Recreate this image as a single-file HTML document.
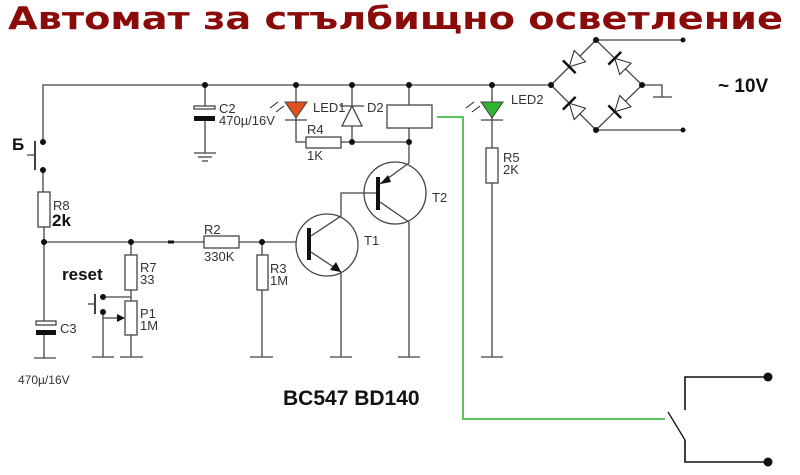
<!DOCTYPE html>
<html><head><meta charset="utf-8"><style>
html,body{margin:0;padding:0;background:#fff;}
svg{display:block;font-family:"Liberation Sans",Arial,sans-serif;}
</style></head><body>
<svg width="800" height="475" viewBox="0 0 800 475" xmlns="http://www.w3.org/2000/svg">
<defs>
<g id="bd"><polygon points="-6,0 9,-8 9,8" fill="#fff" stroke="#222" stroke-width="1"/><line x1="-6" y1="-9" x2="-6" y2="9" stroke="#111" stroke-width="2.5"/></g>
</defs>
<rect width="800" height="475" fill="#fff"/>
<text x="8" y="29" font-size="31" font-weight="bold" fill="#8b0a0a" textLength="775" lengthAdjust="spacingAndGlyphs" font-family="'DejaVu Sans','Liberation Sans',sans-serif">Автомат за стълбищно осветление</text>
<g stroke="#444" stroke-width="1.3" fill="none">
<polyline points="43,142 43,85 551,85"/>
<polyline points="551,85 596,40 642,85 596,130 551,85"/>
<line x1="596" y1="40" x2="683" y2="40"/>
<line x1="596" y1="130" x2="683" y2="130"/>
<polyline points="642,85 662,85 662,97"/>
<line x1="653" y1="97" x2="672" y2="97"/>
<line x1="43" y1="170" x2="43" y2="192"/>
<line x1="35" y1="141" x2="35" y2="170" stroke="#111" stroke-width="1.6"/>
<line x1="27" y1="155" x2="35" y2="155"/>
<rect x="38" y="192" width="12" height="35" fill="#fff"/>
<line x1="44" y1="227" x2="44" y2="321"/>
<line x1="44" y1="334" x2="44" y2="358"/>
<line x1="34" y1="358" x2="56" y2="358"/>
<rect x="36" y="321" width="20" height="4" fill="#fff"/>
<rect x="36" y="330" width="20" height="5" fill="#111" stroke="none"/>
<line x1="44" y1="242" x2="204" y2="242"/>
<line x1="239" y1="242" x2="296" y2="242"/>
<rect x="204" y="236" width="35" height="12" fill="#fff"/>
<line x1="168" y1="242" x2="174" y2="242" stroke="#111" stroke-width="3"/>
<line x1="131" y1="242" x2="131" y2="255"/>
<rect x="125" y="255" width="12" height="35" fill="#fff"/>
<line x1="131" y1="290" x2="131" y2="301"/>
<rect x="125" y="301" width="12" height="34" fill="#fff"/>
<line x1="131" y1="335" x2="131" y2="357"/>
<line x1="120" y1="357" x2="143" y2="357"/>
<line x1="103" y1="297" x2="131" y2="297"/>
<line x1="103" y1="312" x2="103" y2="357"/>
<line x1="92" y1="357" x2="114" y2="357"/>
<line x1="103" y1="318" x2="118" y2="318"/>
<line x1="95" y1="294" x2="95" y2="314" stroke="#111" stroke-width="1.6"/>
<line x1="88" y1="304" x2="95" y2="304"/>
<line x1="262" y1="242" x2="262" y2="255"/>
<rect x="257" y="255" width="11" height="35" fill="#fff"/>
<line x1="262" y1="290" x2="262" y2="357"/>
<line x1="250" y1="357" x2="273" y2="357"/>
<circle cx="327" cy="245" r="31"/>
<line x1="309" y1="228" x2="309" y2="260" stroke="#111" stroke-width="4"/>
<polyline points="311,236 341,216 341,193 377,193"/>
<line x1="311" y1="252" x2="341" y2="272"/>
<line x1="341" y1="272" x2="341" y2="357"/>
<line x1="330" y1="357" x2="352" y2="357"/>
<circle cx="395" cy="193" r="31"/>
<line x1="378" y1="177" x2="378" y2="210" stroke="#111" stroke-width="4"/>
<line x1="380" y1="184" x2="409" y2="163"/>
<line x1="409" y1="163" x2="409" y2="142"/>
<line x1="380" y1="202" x2="409" y2="222"/>
<line x1="409" y1="222" x2="409" y2="357"/>
<line x1="398" y1="357" x2="420" y2="357"/>
<line x1="409" y1="85" x2="409" y2="105"/>
<rect x="387" y="105" width="45" height="23" fill="#fff"/>
<line x1="409" y1="128" x2="409" y2="142"/>
<polyline points="296,118 296,142 306,142"/>
<rect x="306" y="137" width="35" height="11" fill="#fff"/>
<line x1="341" y1="142" x2="409" y2="142"/>
<line x1="352" y1="85" x2="352" y2="142"/>
<polygon points="342,126 362,126 352,106" fill="#fff"/>
<line x1="340" y1="106" x2="364" y2="106"/>
<line x1="296" y1="85" x2="296" y2="102"/>
<line x1="285" y1="120" x2="307" y2="120"/>
<line x1="205" y1="85" x2="205" y2="106"/>
<rect x="194" y="106" width="21" height="3" fill="#fff"/>
<rect x="194" y="116" width="21" height="5" fill="#111" stroke="none"/>
<line x1="205" y1="121" x2="205" y2="153"/>
<line x1="194" y1="153" x2="216" y2="153"/>
<line x1="198" y1="157" x2="212" y2="157"/>
<line x1="202" y1="161" x2="208" y2="161"/>
<line x1="492" y1="85" x2="492" y2="148"/>
<line x1="481" y1="120" x2="503" y2="120"/>
<rect x="486" y="148" width="12" height="35" fill="#fff"/>
<line x1="492" y1="183" x2="492" y2="357"/>
<line x1="481" y1="357" x2="503" y2="357"/>
<line x1="668" y1="412" x2="685" y2="440" stroke="#111"/>
<polyline points="685,410 685,377 768,377" stroke="#111" stroke-width="1.6"/>
<polyline points="685,440 685,462 768,462" stroke="#111" stroke-width="1.6"/>
</g>
<polyline points="437,117 463,117 463,419 665,419" stroke="#5bc35b" stroke-width="2" fill="none"/>
<polygon points="285,102 307,102 296,118" fill="#e0501e" stroke="#444"/>
<polygon points="481,102 503,102 492,118" fill="#2fb42f" stroke="#444"/>
<polygon points="125,318 117,314 117,322" fill="#111"/>
<polygon points="341,272 330,270 336,262" fill="#111"/>
<polygon points="380,184 388,175 391,182" fill="#111"/>
<g stroke="#222" stroke-width="1" fill="none">
<line x1="270" y1="108" x2="278" y2="102"/><line x1="276" y1="112" x2="284" y2="106"/>
<line x1="466" y1="108" x2="474" y2="102"/><line x1="472" y1="112" x2="480" y2="106"/>
</g>
<use href="#bd" transform="translate(573.5,62.5) rotate(-45)"/>
<use href="#bd" transform="translate(619,62.5) rotate(45)"/>
<use href="#bd" transform="translate(573.5,107.5) rotate(45)"/>
<use href="#bd" transform="translate(619,107.5) rotate(-45)"/>
<g fill="#111">
<circle cx="205" cy="85" r="3"/><circle cx="296" cy="85" r="3"/><circle cx="352" cy="85" r="3"/><circle cx="409" cy="85" r="3"/><circle cx="492" cy="85" r="3"/>
<circle cx="551" cy="85" r="3"/><circle cx="596" cy="40" r="3"/><circle cx="642" cy="85" r="3"/><circle cx="596" cy="130" r="3"/>
<circle cx="683" cy="40" r="2.5"/><circle cx="683" cy="130" r="2.5"/>
<circle cx="352" cy="142" r="3"/><circle cx="409" cy="142" r="3"/>
<circle cx="43" cy="142" r="3"/><circle cx="43" cy="170" r="3"/>
<circle cx="44" cy="242" r="3"/><circle cx="131" cy="242" r="3"/><circle cx="262" cy="242" r="3"/>
<circle cx="103" cy="297" r="3"/><circle cx="103" cy="312" r="3"/>
<circle cx="768" cy="377" r="4.5"/><circle cx="768" cy="462" r="4.5"/>
</g>
<g font-size="13" fill="#333">
<text x="219" y="113">C2</text><text x="219" y="125">470µ/16V</text>
<text x="313" y="112">LED1</text><text x="367" y="112">D2</text>
<text x="307" y="134">R4</text><text x="307" y="160">1K</text>
<text x="511" y="104">LED2</text>
<text x="503" y="162">R5</text><text x="503" y="174">2K</text>
<text x="432" y="202">T2</text><text x="364" y="245">T1</text>
<text x="204" y="234">R2</text><text x="204" y="261">330K</text>
<text x="270" y="273">R3</text><text x="270" y="285">1M</text>
<text x="140" y="272">R7</text><text x="140" y="284">33</text>
<text x="140" y="318">P1</text><text x="140" y="330">1M</text>
<text x="60" y="333">C3</text>
<text x="53" y="210">R8</text>
<text x="18" y="384" font-size="12">470µ/16V</text>
</g>
<g font-weight="bold" fill="#111">
<text x="52" y="226" font-size="17">2k</text>
<text x="62" y="280" font-size="17">reset</text>
<text x="12" y="150" font-size="17">Б</text>
<text x="283" y="405" font-size="21">BC547 BD140</text>
<text x="718" y="92" font-size="19">~ 10V</text>
</g>
</svg>
</body></html>
